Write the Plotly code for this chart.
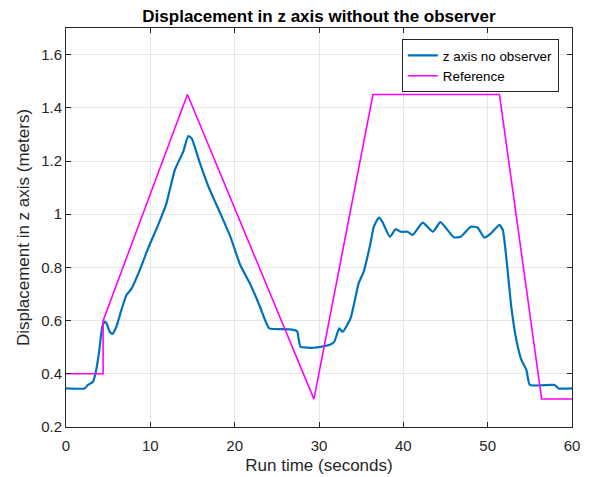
import plotly.graph_objects as go

t_meas = [0, 2.2, 2.6, 3.2, 3.5, 3.9, 4.3, 4.58, 4.8, 5.18, 5.5, 5.97, 6.57, 7.17, 7.76, 8.75,
          9.74, 10.93, 11.9, 12.9, 13.9, 14.5, 14.9, 15.9, 16.9, 18.3, 19.5, 20.65, 21.8, 23.0,
          23.6, 24.1, 26.6, 27.4, 27.8, 29.4, 31.2, 31.8, 32.4, 32.8, 33.75, 34.7, 35.3, 36.1,
          36.5, 37.1, 37.5, 38.4, 39.1, 39.7, 40.5, 41.1, 42.3, 43.5, 44.4, 46.0, 46.8, 48.0,
          48.8, 49.6, 50.4, 51.4, 51.8, 52.2, 52.8, 53.4, 54.0, 54.6, 55.0, 57.95, 58.4, 60]
z_meas = [0.345, 0.345, 0.358, 0.37, 0.402, 0.477, 0.577, 0.596, 0.59, 0.558, 0.55, 0.577, 0.64,
          0.696, 0.72, 0.79, 0.872, 0.96, 1.04, 1.166, 1.235, 1.294, 1.285, 1.19, 1.103, 1.003,
          0.915, 0.81, 0.74, 0.652, 0.602, 0.571, 0.567, 0.56, 0.502, 0.498, 0.508, 0.52, 0.571,
          0.558, 0.609, 0.74, 0.784, 0.89, 0.953, 0.987, 0.972, 0.915, 0.944, 0.934, 0.934, 0.922,
          0.968, 0.934, 0.97, 0.913, 0.915, 0.953, 0.95, 0.912, 0.928, 0.96, 0.94, 0.84, 0.652,
          0.527, 0.452, 0.414, 0.358, 0.358, 0.345, 0.345]

# Reference trajectory
t_ref = [0, 4.4, 4.4, 14.4, 29.4, 36.4, 51.4, 56.4, 60]
z_ref = [0.4, 0.4, 0.6, 1.45, 0.305, 1.45, 1.45, 0.305, 0.305]

x_ticks = [0, 10, 20, 30, 40, 50, 60]
y_ticks = [0.2, 0.4, 0.6, 0.8, 1.0, 1.2, 1.4, 1.6]
y_tick_labels = ["0.2", "0.4", "0.6", "0.8", "1", "1.2", "1.4", "1.6"]

FONT = "Liberation Sans, Arial, Helvetica, sans-serif"

fig = go.Figure()
fig.add_trace(go.Scatter(x=t_meas, y=z_meas, mode="lines", name="z axis no observer",
                         line=dict(color="#0072BD", width=2.2, shape="spline", smoothing=0.45)))
fig.add_trace(go.Scatter(x=t_ref, y=z_ref, mode="lines", name="Reference",
                         line=dict(color="#FF00FF", width=1.6)))

axis_common = dict(showgrid=True, gridcolor="#e6e6e6", gridwidth=1, zeroline=False,
                   showline=True, linecolor="#262626", linewidth=1, mirror="ticks",
                   ticks="inside", ticklen=5, tickcolor="#262626",
                   tickfont=dict(family=FONT, size=15, color="#262626"))

fig.update_layout(
    width=592, height=477,
    margin=dict(l=66, r=20, t=28, b=50, autoexpand=False),
    paper_bgcolor="white", plot_bgcolor="white",
    font=dict(family=FONT, color="#262626"),
    title=dict(text="<b>Displacement in z axis without the observer</b>", x=0.5,
               xref="paper", xanchor="center", yref="container", y=1 - 16 / 477, yanchor="middle",
               font=dict(size=17, color="#000000")),
    xaxis=dict(range=[0, 60], tickvals=x_ticks, ticklabelstandoff=5,
               title=dict(text="Run time (seconds)", font=dict(size=17, color="#262626"), standoff=6),
               **axis_common),
    yaxis=dict(range=[0.2, 1.7], tickvals=y_ticks, ticktext=y_tick_labels,
               title=dict(text="Displacement in z axis (meters)", font=dict(size=17, color="#262626"), standoff=7),
               **axis_common),
    legend=dict(x=0.974, y=0.972, xanchor="right", yanchor="top",
                bgcolor="white", bordercolor="#262626", borderwidth=1,
                font=dict(family=FONT, size=13.4, color="#000000"), tracegroupgap=0),
    showlegend=True,
)

fig.write_html("out.html", config={"displayModeBar": False},
               post_script="document.body.style.margin='0px';")
